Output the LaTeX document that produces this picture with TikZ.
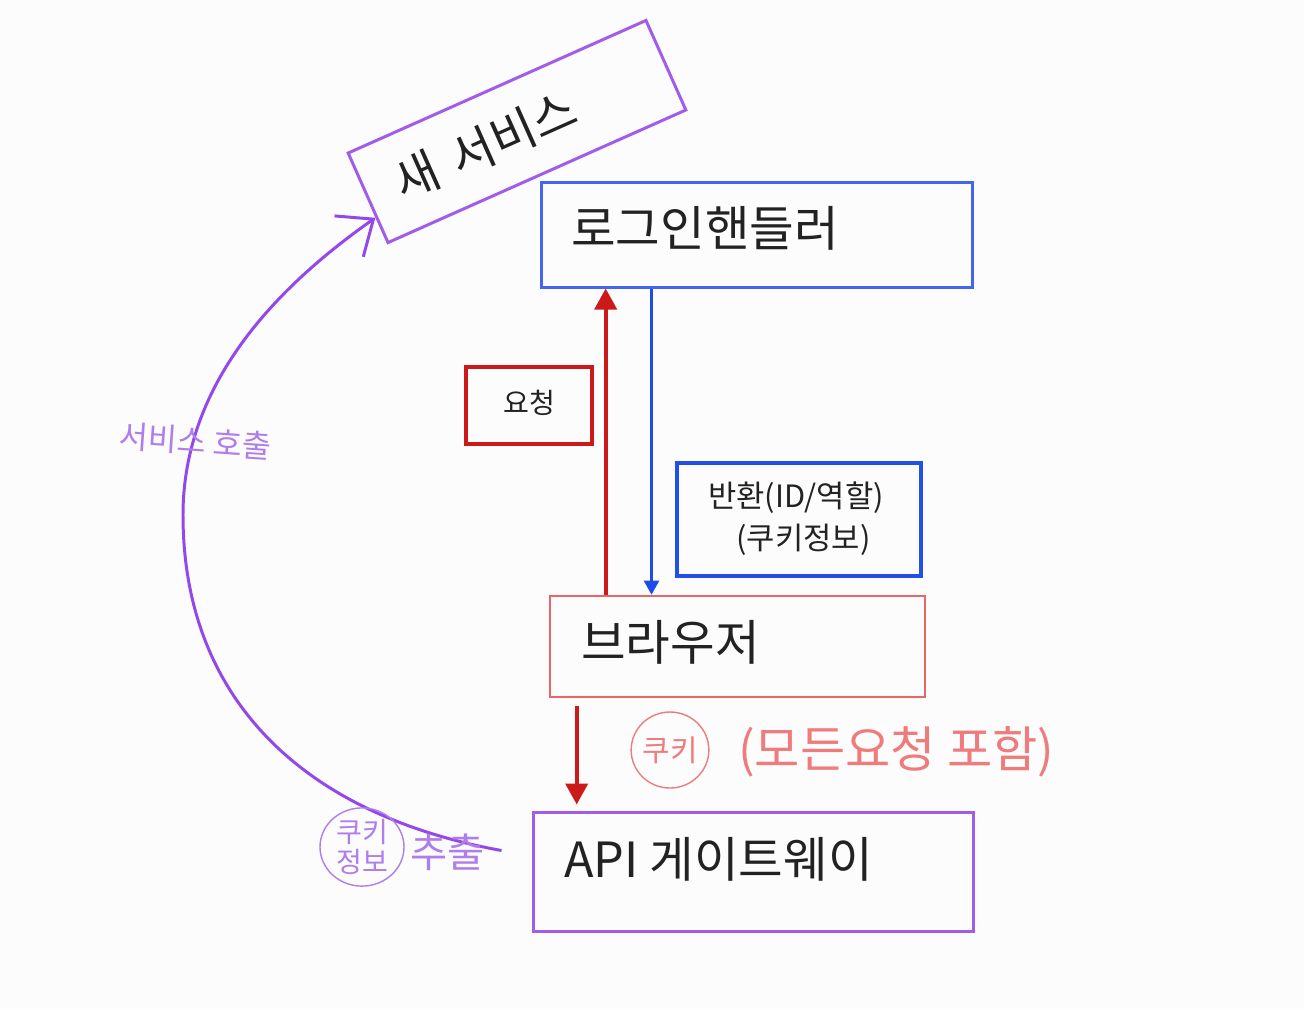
\documentclass[tikz,border=0pt]{standalone}
\usepackage{fontspec}
\setmainfont{Noto Sans CJK KR}
\usetikzlibrary{arrows.meta,fit,calc,shapes.geometric}
\definecolor{bg}{HTML}{FCFCFD}
\definecolor{ink}{HTML}{222222}
\definecolor{purp}{HTML}{A25CEA}
\definecolor{curvepurp}{HTML}{9548EA}
\definecolor{hwpurp}{HTML}{B07EEC}
\definecolor{loginblue}{HTML}{4466EE}
\definecolor{retblue}{HTML}{2050E8}
\definecolor{arrowblue}{HTML}{1E4CEA}
\definecolor{reqred}{HTML}{CC1A1A}
\definecolor{browserred}{HTML}{EA6666}
\definecolor{hwred}{HTML}{EE7C7C}
\begin{document}
\begin{tikzpicture}[x=0.02cm,y=-0.02cm,
  boxline/.style={draw, inner sep=0pt, line width=1.7pt},
  bigfont/.style={text=ink, font=\fontsize{27.6}{32}\selectfont},
  bigtext/.style={bigfont, inner sep=0pt},
  midtext/.style={text=ink, inner sep=0pt, font=\fontsize{16}{24}\selectfont},
  redarrow/.style={draw=reqred, line width=2.3pt, -{Triangle[length=0.42cm,width=0.44cm]}},
  bluearrow/.style={draw=arrowblue, line width=1.3pt, -{Triangle[length=0.28cm,width=0.3cm]}},
  callcurve/.style={draw=curvepurp, line width=1.7pt, -{Straight Barb[length=0.6cm,width=1.0cm,line width=1.7pt]}},
  hwp/.style={text=hwpurp, inner sep=0pt},
  hwr/.style={text=hwred, inner sep=0pt}
]
\useasboundingbox[fill=bg] (0,0) rectangle (1304,1009);

% boxes
\node (newsvc) [boxline, bigfont, draw=purp, rotate=24, minimum width=326*0.02cm, minimum height=98*0.02cm,
  inner xsep=31*0.02cm, inner ysep=0pt, text width=264*0.02cm, align=left] at (517,131.5) {\raisebox{-0.1cm}{새 서비스}};
\node (login) [boxline, draw=loginblue, fit={(541,182) (972,287)}] {};
\node (req) [boxline, draw=reqred, line width=2.5pt, fit={(466,367) (592,444)}] {};
\node (ret) [boxline, draw=retblue, line width=1.8pt, fit={(677,463) (921,576)}] {};
\node (browser) [boxline, draw=browserred, line width=1.5pt, fit={(550,596) (925,697)}] {};
\node (api) [boxline, draw=purp, fit={(533,812) (973,931)}] {};

% texts
\node (logintext) [bigtext, anchor=west] at (571,228) {로그인핸들러};
\node (browsertext) [bigtext, anchor=west] at (581,642) {브라우저};
\node (apitext) [bigtext, anchor=west] at (564,859) {API 게이트웨이};
\node (reqtext) [midtext] at (529,403) {요청};
\node (rettext) [midtext, font=\fontsize{17.5}{24}\selectfont, align=center] at (796,519) {반환(ID/역할)\\\hspace*{0.3cm}(쿠키정보)};

% arrows
\coordinate (rb) at ([shift={(57,0)}]browser.north west);
\draw[redarrow] (rb) -- (rb |- login.south);
\coordinate (lb) at ([shift={(112,0)}]login.south west);
\draw[bluearrow] (lb) -- (lb |- browser.north);
\coordinate (bd) at ([shift={(28,8)}]browser.south west);
\draw[redarrow] (bd) -- ([yshift=0.12cm]bd |- api.north);

% call curve
\coordinate (cstart) at ([shift={(-30,-21)}]api.west);
\coordinate (ctip) at ($(newsvc.west)!0.42!(newsvc.south west)$);
\draw[callcurve] (cstart) .. controls (305,815) and (183,700) .. (183,515)
  .. controls (183,385) and (274,289) .. (ctip);

% handwritten notes
\node (hw1) [hwp, rotate=-4, font=\fontsize{18}{20}\selectfont] at (195,441) {서비스 호출};
\node (hw2a) [hwp, draw=hwpurp, line width=0.8pt, ellipse, inner sep=0pt, minimum width=84*0.02cm, minimum height=78*0.02cm, align=center, font=\fontsize{16}{17}\selectfont] at (362,847) {쿠키\\정보};
\node (hw2b) [hwp, anchor=west, font=\fontsize{23}{26}\selectfont] at (410,852) {추출};
\node (hw3a) [hwr, draw=hwred, line width=0.8pt, ellipse, inner sep=0pt, minimum width=72*0.02cm, minimum height=76*0.02cm, font=\fontsize{17}{20}\selectfont] at (670,750) {쿠키};
\node (hw3b) [hwr, anchor=west, font=\fontsize{28}{32}\selectfont] at (738,752) {(모든요청 포함)};
\end{tikzpicture}
\end{document}
